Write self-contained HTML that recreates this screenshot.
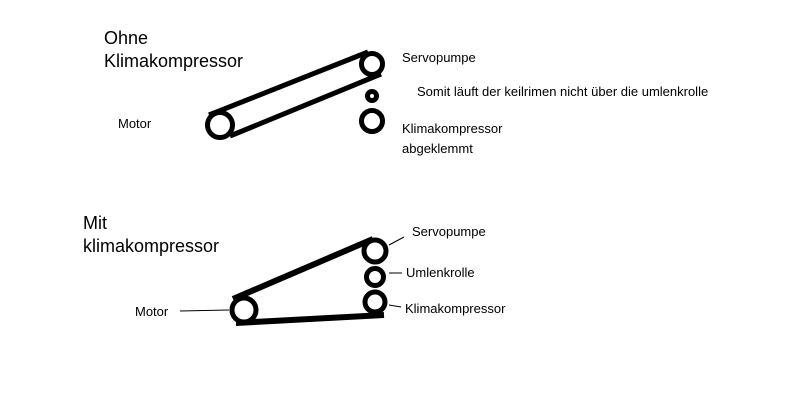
<!DOCTYPE html>
<html><head><style>
body{margin:0;background:#fff;width:807px;height:403px;overflow:hidden}
svg{display:block}
text{font-family:"Liberation Sans","DejaVu Sans",sans-serif;fill:#000}
</style></head><body>
<svg width="807" height="403" viewBox="0 0 807 403">
<g fill="none" stroke="#000" stroke-width="5">
<line x1="209" y1="115" x2="368" y2="52"/>
<line x1="230" y1="136" x2="381" y2="74"/>
<circle cx="220" cy="125" r="12.5" fill="#fff"/>
<circle cx="372" cy="64" r="10.5" fill="#fff"/>
<circle cx="372" cy="96" r="4.5"/>
<circle cx="372" cy="121" r="10.5"/>
<line x1="233" y1="299" x2="373" y2="239" stroke-width="6"/>
<line x1="236" y1="323" x2="384" y2="315" stroke-width="6"/>
<circle cx="244" cy="310" r="12" fill="#fff"/>
<circle cx="375" cy="251" r="11" fill="#fff"/>
<circle cx="375" cy="277" r="8.5"/>
<circle cx="375" cy="302" r="10"/>
</g>
<g stroke="#000" stroke-width="1">
<line x1="180" y1="311" x2="229" y2="310"/>
<line x1="389" y1="245" x2="404" y2="237"/>
<line x1="389" y1="273" x2="402" y2="273"/>
<line x1="389" y1="305" x2="401" y2="307"/>
</g>
<g font-size="18">
<text x="104" y="44">Ohne</text>
<text x="104" y="67">Klimakompressor</text>
<text x="83" y="229">Mit</text>
<text x="83" y="252">klimakompressor</text>
</g>
<g font-size="13">
<text x="402" y="62">Servopumpe</text>
<text x="417" y="96">Somit läuft der keilrimen nicht über die umlenkrolle</text>
<text x="118" y="128">Motor</text>
<text x="402" y="133">Klimakompressor</text>
<text x="402" y="153">abgeklemmt</text>
<text x="412" y="236">Servopumpe</text>
<text x="406" y="277">Umlenkrolle</text>
<text x="405" y="313">Klimakompressor</text>
<text x="135" y="316">Motor</text>
</g>
</svg>
</body></html>
